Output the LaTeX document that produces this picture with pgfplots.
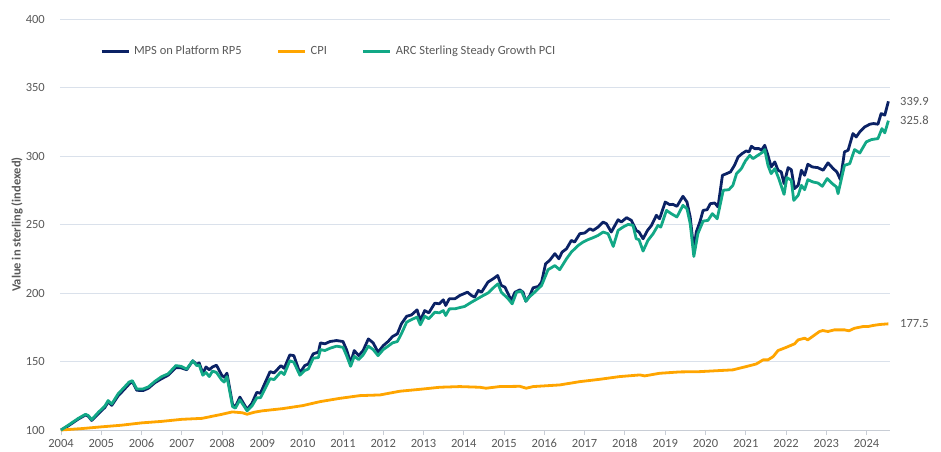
\documentclass[border=0pt]{standalone}
\usepackage{pgfplots}
\pgfplotsset{compat=1.18}
\usepackage{fontspec}
\setmainfont{Carlito}
\definecolor{navy}{HTML}{0B2265}
\definecolor{arcgreen}{HTML}{12A886}
\definecolor{cpiorange}{HTML}{FFA500}
\definecolor{gridc}{HTML}{DAE1EB}
\definecolor{txt}{HTML}{595959}
\begin{document}
\fontsize{12.5}{15}\selectfont
\begin{tikzpicture}
\useasboundingbox (-60pt,-21pt) rectangle (881pt,430pt);
\begin{axis}[
  at={(0,0)}, anchor=south west,
  scale only axis, width=830pt, height=411pt,
  xmin=2003.975, xmax=2024.58, ymin=100, ymax=400,
  clip=false,
  axis x line*=bottom, axis y line*=left,
  y axis line style={draw=none},
  x axis line style={draw=gridc!80!gray, line width=1pt},
  ytick={100,150,...,400},
  xtick={2004,...,2024},
  ymajorgrids, grid style={draw=gridc, line width=1pt},
  tick align=outside, major tick length=5pt,
  xtick style={draw=gridc!80!gray, line width=0.8pt},
  ytick style={draw=none},
  /pgf/number format/assume math mode=true,
  /pgf/number format/1000 sep={},
  tick label style={text=txt, font=\fontsize{12.5}{15}\selectfont},
  yticklabel style={inner sep=0pt, xshift=-10pt},
  xticklabel style={inner sep=0pt, yshift=-4pt},
  ylabel={\bfseries Value in sterling (indexed)},
  ylabel style={at={(axis description cs:-0.0518,0.5)}, anchor=center, rotate=0, text=txt, font=\fontsize{12.5}{15}\selectfont},
  legend columns=-1,
  legend style={at={(axis description cs:0.048,0.922)}, anchor=west, draw=none, fill=none, inner sep=0pt,
    nodes={inner sep=0pt, text=txt, font=\fontsize{12.5}{15}\selectfont},
    /tikz/every odd column/.append style={column sep=4pt},
    /tikz/every even column/.append style={column sep=35pt}},
  legend image code/.code={\draw[#1, line width=3pt] (0pt,0pt) -- (27pt,0pt);},
  line join=round,
]
\addplot[navy, line width=2.8pt] coordinates {
(2004.00,100) (2004.18,103) (2004.43,108) (2004.61,111) (2004.68,110) (2004.76,107) (2004.93,112)
(2005.09,116.5) (2005.17,120.5) (2005.26,118) (2005.42,125) (2005.55,129) (2005.69,133.5) (2005.77,135.5) (2005.88,129)
(2006.04,128.8) (2006.17,130.5) (2006.33,134.5) (2006.50,137.5) (2006.66,140) (2006.85,145.5) (2006.98,145.4)
(2007.12,144) (2007.27,150.5) (2007.37,147.8) (2007.43,149) (2007.52,141.5) (2007.60,146) (2007.68,144) (2007.76,146) (2007.86,147.3) (2007.99,140)
(2008.05,138.5) (2008.12,141.5) (2008.26,118.5) (2008.33,117) (2008.44,124) (2008.52,120) (2008.62,115) (2008.74,119.5) (2008.86,127.5) (2008.95,126.8)
(2009.19,142.6) (2009.29,141.7) (2009.46,147) (2009.54,145) (2009.68,154.8) (2009.78,154.3) (2009.93,141.7)
(2010.05,147) (2010.14,148.2) (2010.26,155.6) (2010.39,156.8) (2010.44,163.6) (2010.55,162.9) (2010.68,164.6) (2010.84,165.3)
(2011.00,164.6) (2011.09,158.5) (2011.19,149) (2011.28,158) (2011.39,154.3) (2011.50,158) (2011.63,166.5) (2011.75,163.6) (2011.87,156.8)
(2012.00,161.6) (2012.12,164.6) (2012.23,168.2) (2012.35,170.2) (2012.45,177.5) (2012.58,183) (2012.70,184) (2012.84,187.7) (2012.92,180)
(2013.03,187.2) (2013.13,185.5) (2013.28,192.6) (2013.39,192.1) (2013.49,195) (2013.55,190.9) (2013.64,195.8) (2013.78,195.8) (2013.90,198.2)
(2014.09,200.6) (2014.19,198.2) (2014.27,197) (2014.36,201.9) (2014.44,200.6) (2014.60,208) (2014.73,210.4) (2014.84,212.8) (2014.93,205.5)
(2015.02,204.3) (2015.10,199.4) (2015.18,194.5) (2015.27,200.6) (2015.39,202.3) (2015.47,200.6) (2015.54,194) (2015.64,198.2) (2015.72,203.8) (2015.85,204.8) (2015.93,208)
(2016.03,221.3) (2016.13,223.8) (2016.26,228.7) (2016.36,225) (2016.44,229.9) (2016.55,232.3) (2016.67,238.4) (2016.75,237.2) (2016.88,243.3)
(2017.00,243.8) (2017.13,246.9) (2017.21,245.7) (2017.33,248.1) (2017.46,251.8) (2017.54,250.6) (2017.66,244.5) (2017.83,253.5) (2017.91,251.8)
(2018.04,255) (2018.16,253) (2018.28,245.7) (2018.35,244.5) (2018.45,239.6) (2018.56,245.7) (2018.66,249.4) (2018.78,256.7) (2018.86,254.2)
(2019.00,266.4) (2019.11,264.5) (2019.19,264.7) (2019.29,263.3) (2019.44,270.6) (2019.54,266.4) (2019.62,255.5) (2019.71,231) (2019.77,244.5) (2019.86,251.8) (2019.94,260.3)
(2020.04,260.8) (2020.12,265.2) (2020.23,265.7) (2020.31,262.8) (2020.42,285.9) (2020.52,287.1) (2020.62,288.4) (2020.72,293.2) (2020.81,299.3) (2020.91,301.8)
(2021.01,303.7) (2021.08,303) (2021.14,307.1) (2021.22,305.4) (2021.33,305.4) (2021.39,304.2) (2021.47,307.8) (2021.55,300.5) (2021.63,292) (2021.72,295.7) (2021.80,289.6) (2021.88,288.4) (2021.95,279.8)
(2022.05,291.5) (2022.13,290) (2022.21,276.2) (2022.30,278.6) (2022.38,289.6) (2022.46,285.9) (2022.54,294) (2022.65,292) (2022.79,291.5) (2022.92,289.6)
(2023.04,295) (2023.17,290.8) (2023.26,288.4) (2023.35,282.7) (2023.45,303) (2023.54,304.2) (2023.66,316.4) (2023.74,313.9) (2023.83,317.6) (2023.95,321.2)
(2024.08,323.2) (2024.17,323.7) (2024.28,323.2) (2024.36,331) (2024.45,329.8) (2024.54,339.9)
};
\addlegendentry{MPS on Platform RP5}
\addplot[cpiorange, line width=2.8pt] coordinates {
(2004.00,100) (2004.5,101) (2005.0,102.3) (2005.5,103.5) (2006.0,105.2) (2006.5,106.3) (2007.0,107.8) (2007.5,108.5)
(2008.0,111.5) (2008.25,113.2) (2008.5,112.6) (2008.62,111.5) (2008.8,113) (2009.0,114) (2009.5,115.6) (2010.0,117.8)
(2010.43,120.7) (2010.92,123.1) (2011.42,125.1) (2011.92,125.6) (2012.41,128.3) (2012.91,129.7) (2013.40,131.2) (2013.90,131.7)
(2014.40,131.2) (2014.55,130.5) (2014.89,131.7) (2015.39,131.9) (2015.55,130.5) (2015.72,131.7) (2016.38,132.9) (2016.88,135.3)
(2017.37,137) (2017.87,139) (2018.37,140.2) (2018.49,139.5) (2018.86,141.4) (2019.36,142.4) (2019.86,142.6) (2020.35,143.4)
(2020.68,143.9) (2021.01,146.3) (2021.26,148.2) (2021.43,151.2) (2021.55,151.2) (2021.68,153.6) (2021.80,158) (2022.01,160.4)
(2022.21,162.9) (2022.30,165.8) (2022.46,167) (2022.54,165.8) (2022.83,171.9) (2022.91,172.6) (2023.04,171.9) (2023.20,173.1)
(2023.45,173.1) (2023.56,172.4) (2023.70,174.3) (2023.91,175.5) (2024.03,175.5) (2024.16,176.3) (2024.32,177) (2024.54,177.5)
};
\addlegendentry{CPI}
\addplot[arcgreen, line width=2.8pt] coordinates {
(2004.00,100) (2004.18,103.5) (2004.43,108.5) (2004.61,111.5) (2004.68,110.5) (2004.76,107.5) (2004.93,113)
(2005.09,117.5) (2005.17,121.5) (2005.26,119) (2005.42,126.5) (2005.55,130.5) (2005.69,135) (2005.77,136) (2005.88,130)
(2006.04,130) (2006.17,131.5) (2006.33,135.5) (2006.50,139) (2006.66,141) (2006.85,147) (2006.98,146.5)
(2007.12,144.5) (2007.27,150.5) (2007.37,147) (2007.43,147.5) (2007.52,140) (2007.60,142) (2007.68,139) (2007.76,143) (2007.86,142) (2007.99,136.5)
(2008.05,135) (2008.12,139) (2008.26,117) (2008.33,116) (2008.44,122) (2008.52,118.5) (2008.62,114) (2008.74,117.5) (2008.86,123.5) (2008.95,123.5)
(2009.19,137.5) (2009.29,136.8) (2009.46,142.5) (2009.54,140.5) (2009.68,150.5) (2009.78,149.5) (2009.93,140)
(2010.05,143.4) (2010.14,144.5) (2010.26,152.4) (2010.39,152.9) (2010.44,158.7) (2010.55,158) (2010.68,159.7) (2010.84,161.2)
(2011.00,160.4) (2011.09,154.3) (2011.19,146.5) (2011.28,153.8) (2011.39,151.4) (2011.50,154.8) (2011.63,161.2) (2011.75,158.7) (2011.87,154.3)
(2012.00,158.7) (2012.12,161.2) (2012.23,163.6) (2012.35,164.6) (2012.45,170.2) (2012.58,178.7) (2012.70,180.6) (2012.84,182.4) (2012.92,176.8)
(2013.03,183.1) (2013.13,181.2) (2013.28,186) (2013.39,185.5) (2013.49,187.2) (2013.55,183.6) (2013.64,188.4) (2013.78,188.5)
(2014.02,190.2) (2014.19,193.3) (2014.44,197.5) (2014.60,200) (2014.77,204.8) (2014.85,206.7) (2014.93,200.6)
(2015.10,195.8) (2015.20,192.1) (2015.31,200.6) (2015.43,201.4) (2015.54,194) (2015.64,197.5) (2015.76,200.6) (2015.93,205.5)
(2016.09,217) (2016.26,220) (2016.38,217) (2016.55,225) (2016.67,229.9) (2016.84,234.7) (2016.96,237.2)
(2017.08,238.9) (2017.21,240.4) (2017.33,242) (2017.46,244.5) (2017.58,243.3) (2017.71,234) (2017.83,245.7) (2017.95,248.1)
(2018.08,250.1) (2018.20,249.4) (2018.28,239.6) (2018.35,238.9) (2018.45,230.6) (2018.57,238.4) (2018.70,243.3) (2018.82,249.4) (2018.89,248.1)
(2019.03,260.3) (2019.15,257.9) (2019.29,255.5) (2019.44,264) (2019.54,261.5) (2019.62,250.6) (2019.71,226.7) (2019.81,243.3) (2019.94,252.5)
(2020.06,253) (2020.17,257.9) (2020.29,254.2) (2020.44,275) (2020.58,275.4) (2020.68,278.6) (2020.77,287.1) (2020.89,290.8) (2020.99,296.4)
(2021.10,300.5) (2021.18,298.1) (2021.30,300.5) (2021.43,303) (2021.47,304.7) (2021.55,293.2) (2021.63,287.1) (2021.72,290.8) (2021.82,283.5) (2021.95,272)
(2022.02,284.2) (2022.13,282.3) (2022.19,267.6) (2022.30,271.3) (2022.38,278.6) (2022.46,275.4) (2022.54,282.7) (2022.67,281) (2022.79,280.3) (2022.90,277.9)
(2023.02,283.5) (2023.15,279.8) (2023.25,277.4) (2023.29,272.5) (2023.45,293.2) (2023.58,294.4) (2023.70,304.7) (2023.83,302.2) (2023.99,310.3)
(2024.12,312) (2024.28,312.7) (2024.38,320) (2024.45,316.9) (2024.54,325.8)
};
\addlegendentry{ARC Sterling Steady Growth PCI}
\node[anchor=west, inner sep=0pt, text=txt, xshift=10pt] at (axis cs:2024.58,339.9) {339.9};
\node[anchor=west, inner sep=0pt, text=txt, xshift=10pt] at (axis cs:2024.58,325.8) {325.8};
\node[anchor=west, inner sep=0pt, text=txt, xshift=10pt] at (axis cs:2024.58,177.5) {177.5};
\end{axis}
\end{tikzpicture}
\end{document}
